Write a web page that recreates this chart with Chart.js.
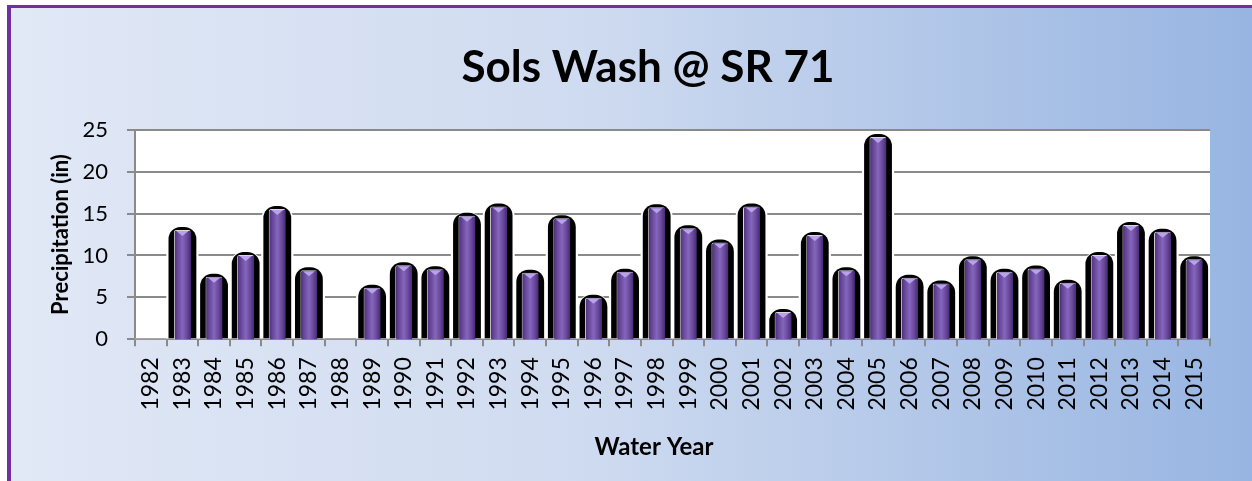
<!DOCTYPE html>
<html><head><meta charset="utf-8">
<script src="https://cdn.jsdelivr.net/npm/chart.js@4.4.0/dist/chart.umd.min.js"></script>
<style>
html,body{margin:0;padding:0;background:#fff;}
#wrap{position:relative;width:1252px;height:481px;overflow:hidden;}
#frame{position:absolute;left:7px;top:5px;width:1270px;height:500px;border-left:4px solid #7030A0;border-top:3px solid #7030A0;background:linear-gradient(to right,#E1E8F6 0%,#CFDBF0 45%,#95B3E1 100%);}
canvas{position:absolute;left:0;top:0;}
</style></head><body>
<div id="wrap"><div id="frame"></div><canvas id="c" width="1252" height="481"></canvas></div>
<script>
const years = ['1982','1983','1984','1985','1986','1987','1988','1989','1990','1991','1992','1993','1994','1995','1996','1997','1998','1999','2000','2001','2002','2003','2004','2005','2006','2007','2008','2009','2010','2011','2012','2013','2014','2015'];
const precipitation = [0,13.4,7.8,10.4,15.9,8.6,0,6.5,9.2,8.7,15.1,16.2,8.3,14.8,5.3,8.4,16.1,13.6,11.9,16.2,3.6,12.8,8.6,24.5,7.7,7.0,9.9,8.4,8.8,7.1,10.4,14.0,13.2,9.9];
const yTicks = [0,5,10,15,20,25];
const chartTitle = 'Sols Wash @ SR 71';
const yTitle = 'Precipitation (in)';
const xTitle = 'Water Year';

const FONT = 'Lato, "Open Sans", sans-serif';
const GRAY = '#8a8a8a';

function innerFill(context){
  const chart = context.chart;
  const xs = chart.scales && chart.scales.x;
  if (!chart.chartArea || !xs) return '#6B4A9C';
  const x = xs.getPixelForValue(context.dataIndex);
  const w = (chart.chartArea.right - chart.chartArea.left) / years.length * 0.54;
  const g = chart.ctx.createLinearGradient(x - w/2, 0, x + w/2, 0);
  g.addColorStop(0, '#4A2C78');
  g.addColorStop(0.25, '#6A4A9E');
  g.addColorStop(0.5, '#8466BA');
  g.addColorStop(0.75, '#6A4A9E');
  g.addColorStop(1, '#45296F');
  return g;
}

const plotBg = {
  id: 'plotBg',
  afterLayout(chart){
    (chart.boxes || []).forEach(b => {
      if (!b.options) return;
      if (b.options.text === chartTitle) { b.left += 43; b.right += 43; }
      if (b.options.text === xTitle) { b.left += 49; b.right += 49; }
    });
  },
  beforeDraw(chart){
    const {ctx, chartArea:a} = chart;
    ctx.save(); ctx.fillStyle = '#ffffff';
    ctx.fillRect(a.left, a.top, a.right - a.left, a.bottom - a.top);
    ctx.restore();
  }
};
const innerShift = {
  id: 'innerShift',
  beforeDatasetDraw(chart, args){
    if (chart.data.datasets[args.index].label !== 'inner') return;
    const {ctx, chartArea:a} = chart;
    ctx.save();
    ctx.beginPath(); ctx.rect(a.left, a.top - 10, a.right - a.left, a.bottom - a.top + 10); ctx.clip();
    ctx.translate(0, 3);
  },
  afterDatasetDraw(chart, args){
    if (chart.data.datasets[args.index].label !== 'inner') return;
    const ctx = chart.ctx;
    args.meta.data.forEach((el, i) => {
      if (!precipitation[i]) return;
      ctx.beginPath();
      ctx.moveTo(el.x - 6, el.y + 1);
      ctx.lineTo(el.x + 6, el.y + 1);
      ctx.lineTo(el.x, el.y + 6);
      ctx.closePath();
      ctx.fillStyle = '#B9A2EC';
      ctx.fill();
    });
    ctx.restore();
  }
};

new Chart(document.getElementById('c'), {
  type: 'bar',
  data: {
    labels: years,
    datasets: [
      {
        label: 'inner',
        data: precipitation,
        order: 1,
        grouped: false,
        backgroundColor: innerFill,
        borderColor: 'rgba(255,255,255,0.85)',
        borderWidth: {left: 1, right: 0, top: 1, bottom: 0},
        borderSkipped: 'start',
        categoryPercentage: 1,
        barPercentage: 0.54,
        borderRadius: {topLeft: 2, topRight: 2, bottomLeft: 0, bottomRight: 0}
      },
      {
        label: 'shadow',
        data: precipitation,
        order: 2,
        grouped: false,
        backgroundColor: '#000000',
        borderWidth: 0,
        categoryPercentage: 1,
        barPercentage: 0.88,
        borderRadius: {topLeft: 12, topRight: 12, bottomLeft: 0, bottomRight: 0}
      },
      {
        label: 'halo',
        data: precipitation,
        order: 3,
        grouped: false,
        backgroundColor: '#ffffff',
        borderWidth: 0,
        categoryPercentage: 1,
        barPercentage: 1.0,
        borderRadius: {topLeft: 14, topRight: 14, bottomLeft: 0, bottomRight: 0}
      }
    ]
  },
  options: {
    responsive: false,
    animation: false,
    layout: {padding: {left: 0, right: 42, top: 0, bottom: 0}},
    plugins: {
      legend: {display: false},
      tooltip: {enabled: false},
      title: {
        display: true,
        text: chartTitle,
        color: '#000',
        font: {family: FONT, size: 44, weight: 'bold', lineHeight: 1.2},
        padding: {top: 41, bottom: 36}
      },
      subtitle: {
        display: true,
        position: 'bottom',
        text: xTitle,
        color: '#000',
        font: {family: FONT, size: 24, weight: 'bold', lineHeight: 1.2},
        padding: {top: 0, bottom: 19}
      }
    },
    scales: {
      x: {
        afterFit(s){ s.height = 94; },
        grid: {display: true, drawOnChartArea: false, offset: true, tickLength: 7, color: GRAY, lineWidth: 2},
        border: {display: true, color: GRAY, width: 2},
        ticks: {color: '#000', font: {family: FONT, size: 23}, minRotation: 90, maxRotation: 90, padding: 11, autoSkip: false}
      },
      y: {
        min: 0, max: 25,
        afterFit(s){ s.width = 135; },
        afterBuildTicks(s){ s.ticks = yTicks.map(v => ({value: v})); },
        grid: {color: GRAY, lineWidth: 2, tickLength: 8},
        border: {display: true, color: GRAY, width: 2},
        ticks: {color: '#000', font: {family: FONT, size: 22}, padding: 19},
        title: {display: true, text: yTitle, color: '#000', font: {family: FONT, size: 22, weight: 'bold', lineHeight: 1.2}, padding: {top: 48, bottom: 0}}
      }
    }
  },
  plugins: [plotBg, innerShift]
});
</script>
</body></html>
